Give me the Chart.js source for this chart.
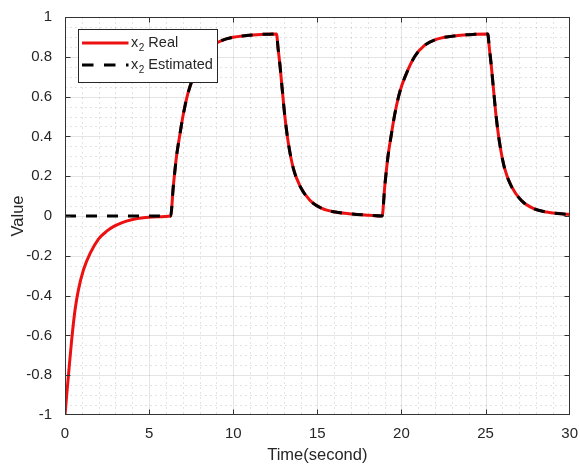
<!DOCTYPE html>
<html>
<head>
<meta charset="utf-8">
<script src="https://cdn.jsdelivr.net/npm/chart.js@4.4.1/dist/chart.umd.min.js"></script>
<style>
  html, body { margin: 0; padding: 0; background: #ffffff; }
  #wrap { width: 580px; height: 464px; }
</style>
</head>
<body>
<div id="wrap"><canvas id="c" width="580" height="464"></canvas></div>
<script>
// Sample times (s)
const timeSec = [
  0, 0.1, 0.2, 0.4, 0.6, 0.8, 1.1, 1.5, 2.0, 2.5, 2.9, 3.4, 3.9, 4.8, 5.5,
  6.28, 6.44, 6.63, 6.83, 7.03, 7.32, 7.72, 8.21, 8.80, 9.59, 10.78, 11.78,
  12.57, 12.67, 12.77, 12.92, 13.07, 13.27, 13.57, 13.97, 14.57, 15.27, 16.07, 17.07, 18.07,
  18.85, 19.01, 19.20, 19.40, 19.60, 19.89, 20.29, 20.78, 21.37, 22.16, 23.35, 24.35,
  25.13, 25.23, 25.33, 25.48, 25.63, 25.83, 26.13, 26.53, 27.13, 27.83, 28.63, 29.63, 30
];

// True state x2
const x2Real = [
  -1, -0.9, -0.805, -0.62, -0.47, -0.37, -0.27, -0.187, -0.115, -0.075, -0.052, -0.033, -0.02, -0.008, -0.004,
  0, 0.15, 0.30, 0.41, 0.51, 0.62, 0.715, 0.80, 0.857, 0.89, 0.907, 0.913,
  0.915, 0.84, 0.765, 0.63, 0.50, 0.37, 0.24, 0.15, 0.078, 0.038, 0.02, 0.01, 0.004,
  0, 0.15, 0.30, 0.41, 0.51, 0.62, 0.715, 0.80, 0.857, 0.89, 0.907, 0.913,
  0.915, 0.84, 0.765, 0.63, 0.50, 0.37, 0.24, 0.15, 0.078, 0.038, 0.02, 0.01, 0.008
];

// Observer estimate of x2
const x2Estimated = [
  0, 0, 0, 0, 0, 0, 0, 0, 0, 0, 0, 0, 0, 0, 0,
  0, 0.15, 0.30, 0.41, 0.51, 0.62, 0.715, 0.80, 0.857, 0.89, 0.907, 0.913,
  0.915, 0.84, 0.765, 0.63, 0.50, 0.37, 0.24, 0.15, 0.078, 0.038, 0.02, 0.01, 0.004,
  0, 0.15, 0.30, 0.41, 0.51, 0.62, 0.715, 0.80, 0.857, 0.89, 0.907, 0.913,
  0.915, 0.84, 0.765, 0.63, 0.50, 0.37, 0.24, 0.15, 0.078, 0.038, 0.02, 0.01, 0.008
];

const seriesLabels = ['Real', 'Estimated'];
const xRange = [0, 30];
const yRange = [-1, 1];
const xMajorStep = 5, xMinorStep = 1;
const yMajorStep = 0.2, yMinorStep = 0.05;

const FONT = '"Liberation Sans", Arial, Helvetica, sans-serif';
const TEXT = '#262626';
const RED = 'rgb(236,16,16)';

const toPoints = (ys) => timeSec.map((t, i) => ({ x: t, y: ys[i] }));

// grid, box, inward ticks and legend
const framePlugin = {
  id: 'frame',
  beforeDatasetsDraw(chart) {
    const { ctx, chartArea: a, scales: { x, y } } = chart;
    ctx.save();
    ctx.lineWidth = 1;
    // minor grid
    ctx.strokeStyle = 'rgba(0,0,0,0.11)';
    ctx.setLineDash([2, 3]);
    ctx.beginPath();
    const nx = Math.round((xRange[1] - xRange[0]) / xMinorStep);
    for (let i = 1; i < nx; i++) {
      const v = xRange[0] + i * xMinorStep;
      if (i % Math.round(xMajorStep / xMinorStep) === 0) continue;
      const px = Math.round(x.getPixelForValue(v)) + 0.5;
      ctx.moveTo(px, a.top); ctx.lineTo(px, a.bottom);
    }
    const ny = Math.round((yRange[1] - yRange[0]) / yMinorStep);
    for (let i = 1; i < ny; i++) {
      if (i % Math.round(yMajorStep / yMinorStep) === 0) continue;
      const v = yRange[0] + i * yMinorStep;
      const py = Math.round(y.getPixelForValue(v)) + 0.5;
      ctx.moveTo(a.left, py); ctx.lineTo(a.right, py);
    }
    ctx.stroke();
    // major grid
    ctx.setLineDash([]);
    ctx.strokeStyle = 'rgba(0,0,0,0.10)';
    ctx.beginPath();
    for (let v = xRange[0] + xMajorStep; v < xRange[1] - 1e-9; v += xMajorStep) {
      const px = Math.round(x.getPixelForValue(v)) + 0.5;
      ctx.moveTo(px, a.top); ctx.lineTo(px, a.bottom);
    }
    const nyM = Math.round((yRange[1] - yRange[0]) / yMajorStep);
    for (let i = 1; i < nyM; i++) {
      const v = yRange[0] + i * yMajorStep;
      const py = Math.round(y.getPixelForValue(v)) + 0.5;
      ctx.moveTo(a.left, py); ctx.lineTo(a.right, py);
    }
    ctx.stroke();
    ctx.restore();
  },
  afterDatasetsDraw(chart) {
    const { ctx, chartArea: a, scales: { x, y } } = chart;
    ctx.save();
    // box
    ctx.strokeStyle = '#333333';
    ctx.lineWidth = 1;
    ctx.setLineDash([]);
    const L = Math.round(a.left) + 0.5, R = Math.round(a.right) - 0.5;
    const T = Math.round(a.top) + 0.5, B = Math.round(a.bottom) - 0.5;
    ctx.strokeRect(L, T, R - L, B - T);
    // inward tick marks
    const tl = 5;
    ctx.beginPath();
    for (let v = xRange[0] + xMajorStep; v < xRange[1] - 1e-9; v += xMajorStep) {
      const px = Math.round(x.getPixelForValue(v)) + 0.5;
      ctx.moveTo(px, B); ctx.lineTo(px, B - tl);
      ctx.moveTo(px, T); ctx.lineTo(px, T + tl);
    }
    const nyM = Math.round((yRange[1] - yRange[0]) / yMajorStep);
    for (let i = 1; i < nyM; i++) {
      const py = Math.round(y.getPixelForValue(yRange[0] + i * yMajorStep)) + 0.5;
      ctx.moveTo(L, py); ctx.lineTo(L + tl, py);
      ctx.moveTo(R, py); ctx.lineTo(R - tl, py);
    }
    ctx.stroke();

    // legend
    const lx = a.left + 13, ly = a.top + 12, lw = 139, lh = 53;
    ctx.fillStyle = '#ffffff';
    ctx.fillRect(lx, ly, lw, lh);
    ctx.strokeStyle = '#262626';
    ctx.strokeRect(Math.round(lx) + 0.5, Math.round(ly) + 0.5, lw, lh);
    const rows = [
      { y: ly + 14, color: RED, dash: [], label: seriesLabels[0] },
      { y: ly + 36, color: '#000000', dash: [11.5, 10.5], label: seriesLabels[1] }
    ];
    rows.forEach(r => {
      ctx.beginPath();
      ctx.setLineDash(r.dash);
      ctx.strokeStyle = r.color;
      ctx.lineWidth = 3;
      ctx.moveTo(lx + 4, r.y); ctx.lineTo(lx + 50.5, r.y);
      ctx.stroke();
      ctx.setLineDash([]);
      ctx.fillStyle = TEXT;
      ctx.textBaseline = 'alphabetic';
      ctx.textAlign = 'left';
      let tx = lx + 53;
      ctx.font = '14.5px ' + FONT;
      ctx.fillText('x', tx, r.y + 4);
      tx += ctx.measureText('x').width;
      ctx.font = '10px ' + FONT;
      ctx.fillText('2', tx + 0.5, r.y + 8);
      tx += ctx.measureText('2').width + 0.5;
      ctx.font = '14.5px ' + FONT;
      ctx.fillText(' ' + r.label, tx, r.y + 4);
    });
    ctx.restore();
  }
};

new Chart(document.getElementById('c'), {
  type: 'line',
  data: {
    datasets: [
      {
        label: 'x2 ' + seriesLabels[1],
        data: toPoints(x2Estimated),
        borderColor: '#000000',
        borderWidth: 3,
        borderDash: [11, 10],
        pointRadius: 0,
        fill: false,
        cubicInterpolationMode: 'monotone'
      },
      {
        label: 'x2 ' + seriesLabels[0],
        data: toPoints(x2Real),
        borderColor: RED,
        borderWidth: 3,
        pointRadius: 0,
        fill: false,
        cubicInterpolationMode: 'monotone'
      }
    ]
  },
  options: {
    responsive: false,
    animation: false,
    devicePixelRatio: 1,
    layout: { padding: { left: 0, right: 9, top: 17, bottom: 0 } },
    plugins: { legend: { display: false }, tooltip: { enabled: false } },
    scales: {
      x: {
        type: 'linear',
        min: xRange[0], max: xRange[1],
        grid: { display: false },
        border: { display: false },
        ticks: {
          stepSize: xMajorStep,
          padding: 2,
          color: TEXT,
          font: { family: FONT, size: 15 },
          maxRotation: 0
        },
        title: {
          display: true,
          text: 'Time(second)',
          color: TEXT,
          font: { family: FONT, size: 16.5 },
          padding: { top: 0, bottom: -1 }
        },
        afterFit(s) { s.height = 49; }
      },
      y: {
        type: 'linear',
        min: yRange[0], max: yRange[1],
        grid: { display: false },
        border: { display: false },
        ticks: {
          stepSize: yMajorStep,
          padding: 5,
          color: TEXT,
          font: { family: FONT, size: 15 },
          callback: (v) => {
            const r = Math.round(v * 10) / 10;
            return Math.abs(r) < 1e-9 ? '0' : String(r);
          }
        },
        title: {
          display: true,
          text: 'Value',
          color: TEXT,
          font: { family: FONT, size: 16.5 },
          padding: { top: 9, bottom: 0 }
        },
        afterFit(s) { s.width = 65; }
      }
    }
  },
  plugins: [framePlugin]
});
</script>
</body>
</html>
